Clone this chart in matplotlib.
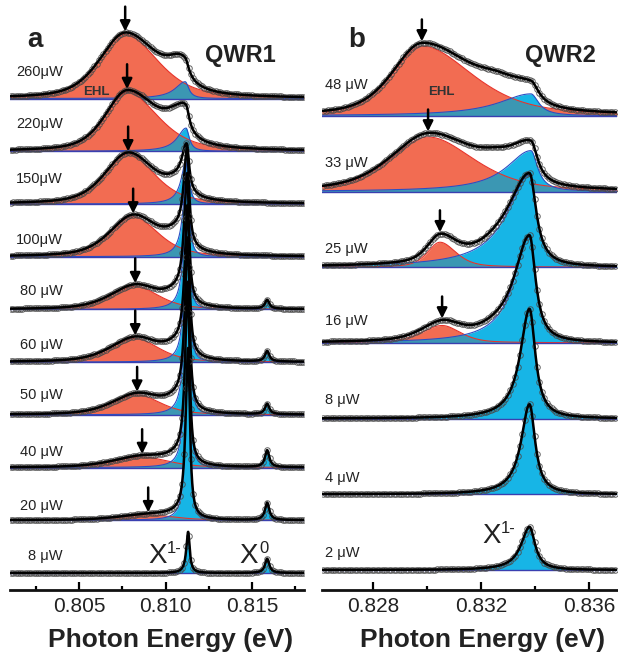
import numpy as np
import matplotlib
matplotlib.use("Agg")
import matplotlib.pyplot as plt
from matplotlib.ticker import MultipleLocator, FormatStrFormatter
from matplotlib.transforms import blended_transform_factory

plt.rcParams['font.family'] = ['Liberation Sans', 'DejaVu Sans']

# ---- panel a (QWR1): spectra listed top -> bottom, widths in meV ----
labels_a = ["260\u03bcW", "220\u03bcW", "150\u03bcW", "100\u03bcW", "80 \u03bcW",
            "60 \u03bcW", "50 \u03bcW", "40 \u03bcW", "20 \u03bcW", "8 \u03bcW"]
ehl_c_a = [0.80766, 0.80777, 0.80783, 0.80812, 0.80824, 0.80824, 0.80835, 0.80864, 0.80899, 0.8090]
ehl_h_a = [1.22, 1.12, 0.95, 0.76, 0.44, 0.45, 0.38, 0.20, 0.10, 0.0]
ehl_wl_a = [1.75, 1.5, 1.6, 1.6, 1.7, 1.7, 1.7, 2.0, 2.0, 1.5]
ehl_wr_a = [2.2, 2.1, 1.8, 1.7, 1.6, 1.6, 1.6, 1.8, 1.8, 1.5]
x1_c_a = [0.81113, 0.81118, 0.81122, 0.81125, 0.81125, 0.81127, 0.81128, 0.81128, 0.8113, 0.8113]
x1_h_a = [0.32, 0.44, 0.88, 1.8, 2.4, 2.8, 3.2, 3.4, 3.2, 0.78]
x1_gl_a = [0.7, 0.6, 0.35, 0.25, 0.22, 0.2, 0.2, 0.18, 0.17, 0.13]
x1_gr_a = [0.25, 0.22, 0.16, 0.13, 0.12, 0.12, 0.12, 0.12, 0.12, 0.11]
x0_h_a = [0.0, 0.0, 0.0, 0.0, 0.17, 0.2, 0.2, 0.32, 0.33, 0.27]
sh_h_a = [0.25, 0.3, 0.2, 0.25, 0.2, 0.2, 0.18, 0.12, 0.06, 0.0]
lab_dy_a = [0.51, 0.51, 0.47, 0.32, 0.34, 0.32, 0.38, 0.30, 0.27, 0.32]

# ---- panel b (QWR2) ----
labels_b = ["48 \u03bcW", "33 \u03bcW", "25 \u03bcW", "16 \u03bcW", "8 \u03bcW", "4 \u03bcW", "2 \u03bcW"]
ehl_c_b = [0.82981, 0.83004, 0.83048, 0.83056, 0.8305, 0.8305, 0.8305]
ehl_h_b = [0.92, 0.72, 0.33, 0.23, 0.0, 0.0, 0.0]
ehl_wl_b = [1.3, 1.65, 0.55, 0.9, 1.0, 1.0, 1.0]
ehl_wr_b = [2.2, 2.0, 0.7, 0.8, 1.0, 1.0, 1.0]
x1_c_b = [0.83385, 0.83385, 0.8338, 0.8338, 0.8338, 0.8338, 0.8338]
x1_h_b = [0.29, 0.54, 1.22, 1.4, 1.45, 1.19, 0.57]
x1_gl_b = [1.45, 1.1, 1.0, 0.7, 0.42, 0.38, 0.38]
x1_gr_b = [0.35, 0.3, 0.3, 0.27, 0.26, 0.25, 0.25]
x0_h_b = [0.0] * 7
sh_h_b = [0.1, 0.1, 0.06, 0.06, 0.0, 0.0, 0.0]
lab_dy_b = [0.41, 0.38, 0.24, 0.29, 0.25, 0.22, 0.22]

X0_CENTER = 0.81587
X0_W = 0.15
SH_C_A, SH_C_B = 0.8106, 0.8325

RED = '#f26c52'
BLUE = '#17b5e6'
TEAL = '#3b97b3'
RED_EDGE = '#e8332a'
BLUE_EDGE = '#2a4fc4'
BASE = '#3a3fb0'
TXT = '#222222'


def asym_lor(E, E0, A, gl, gr):
    g = np.where(E < E0, gl, gr) * 1e-3
    return A / (1 + ((E - E0) / g) ** 2)


def asym_pv(E, E0, A, wl, wr):
    g = np.where(E < E0, wl, wr) * 1e-3
    x = (E - E0) / g
    return A * (0.5 / (1 + x ** 2) + 0.5 * np.exp(-np.log(2) * x ** 2))


def draw_panel(ax, xlim, ylim, step, sh_c, labels, ehl_c, ehl_h, ehl_wl, ehl_wr,
               x1_c, x1_h, x1_gl, x1_gr, x0_h, sh_h, lab_dy, lab_x, lab_ha, arrow_len):
    E = np.linspace(xlim[0], xlim[1], 2500)
    Ep = np.arange(xlim[0] + step / 2, xlim[1], step)
    n = len(labels)
    tr = blended_transform_factory(ax.transAxes, ax.transData)

    def parts(x, i):
        red = asym_pv(x, ehl_c[i], ehl_h[i], ehl_wl[i], ehl_wr[i])
        blue = asym_lor(x, x1_c[i], x1_h[i], x1_gl[i], x1_gr[i]) + \
            asym_lor(x, X0_CENTER, x0_h[i], X0_W, X0_W)
        extra = asym_lor(x, sh_c, sh_h[i], 0.9, 0.8)
        return red, blue, red + blue + extra

    for i in range(n):
        off = n - 1 - i
        z = 10 + 10 * i
        red, blue, fit = parts(E, i)
        teal = np.minimum(red, blue)
        ax.fill_between(E, off, off + red, color=RED, lw=0, zorder=z)
        ax.fill_between(E, off, off + blue, color=BLUE, lw=0, zorder=z + 1)
        ax.fill_between(E, off, off + teal, color=TEAL, lw=0, zorder=z + 2)
        if ehl_h[i] > 0:
            ax.plot(E, off + red, color=RED_EDGE, lw=0.8, zorder=z + 3)
        ax.plot(E, off + blue, color=BLUE_EDGE, lw=0.8, zorder=z + 3)
        ax.plot(xlim, [off, off], color=BASE, lw=1.0, zorder=z + 3)
        _, _, fitp = parts(Ep, i)
        ax.plot(Ep, off + fitp, 'o', ms=4.0, mfc='none', mec='#4a4a4a', mew=0.7,
                alpha=0.85, zorder=z + 4)
        ax.plot(E, off + fit, color='k', lw=1.8, zorder=z + 5)
        ax.text(lab_x, off + lab_dy[i], labels[i], transform=tr, ha=lab_ha, va='center',
                fontsize=10.5, color=TXT, zorder=200)
        if ehl_h[i] > 0:
            _, _, top = parts(np.array([ehl_c[i]]), i)
            tip = off + top[0] + 0.02
            ax.annotate('', xy=(ehl_c[i], tip), xytext=(ehl_c[i], tip + arrow_len),
                        arrowprops=dict(arrowstyle='-|>', color='k', lw=1.8,
                                        mutation_scale=15, shrinkA=0, shrinkB=0),
                        zorder=200)

    ax.set_xlim(xlim)
    ax.set_ylim(ylim)
    for s in ['left', 'right', 'top']:
        ax.spines[s].set_visible(False)
    ax.spines['bottom'].set_linewidth(2)
    ax.spines['bottom'].set_color('#111111')
    ax.set_yticks([])
    ax.patch.set_alpha(0)
    ax.tick_params(axis='x', which='major', direction='in', length=6, width=1.6,
                   labelsize=15, labelcolor=TXT, pad=5)
    ax.tick_params(axis='x', which='minor', direction='in', length=3, width=1.6)
    ax.xaxis.set_major_formatter(FormatStrFormatter('%.3f'))


fig = plt.figure(figsize=(6.18, 6.54), dpi=100)
W, H = 618.0, 654.0
ax1 = fig.add_axes([10 / W, 64 / H, 294 / W, 590 / H])
ax2 = fig.add_axes([322 / W, 64 / H, 295 / W, 590 / H])

draw_panel(ax1, (0.8010, 0.8180), (-0.323, 10.87), 0.00013, SH_C_A, labels_a,
           ehl_c_a, ehl_h_a, ehl_wl_a, ehl_wr_a, x1_c_a, x1_h_a, x1_gl_a, x1_gr_a,
           x0_h_a, sh_h_a, lab_dy_a, 0.180, 'right', 0.47)
ax1.xaxis.set_major_locator(MultipleLocator(0.005))
ax1.xaxis.set_minor_locator(MultipleLocator(0.0025))

draw_panel(ax2, (0.82611, 0.83704), (-0.264, 7.53), 0.00009, SH_C_B, labels_b,
           ehl_c_b, ehl_h_b, ehl_wl_b, ehl_wr_b, x1_c_b, x1_h_b, x1_gl_b, x1_gr_b,
           x0_h_b, sh_h_b, lab_dy_b, 0.01, 'left', 0.29)
ax2.xaxis.set_major_locator(MultipleLocator(0.004))
ax2.xaxis.set_minor_locator(MultipleLocator(0.002))


def fpos(x, y):
    return x / W, 1 - y / H


def xlabel_sup(ax, x, y, sup):
    ax.text(x, y, "X", fontsize=20, color=TXT, ha='left', va='baseline', zorder=300)
    ax.annotate(sup, xy=(x, y), xytext=(13.8, 7.5), textcoords='offset points',
                fontsize=12, color=TXT, ha='left', va='baseline', zorder=300)


xlabel_sup(ax1, 0.80898, 0.19, "1-")
xlabel_sup(ax1, 0.81429, 0.19, "0")
xlabel_sup(ax2, 0.83204, 0.357, "1-")

fig.text(*fpos(27, 47), "a", fontsize=20, fontweight='bold', color=TXT, va='baseline')
fig.text(*fpos(348, 47), "b", fontsize=20, fontweight='bold', color=TXT, va='baseline')
fig.text(*fpos(205, 62), "QWR1", fontsize=17, fontweight='bold', color=TXT, va='baseline')
fig.text(*fpos(525, 62), "QWR2", fontsize=17, fontweight='bold', color=TXT, va='baseline')
fig.text(*fpos(83, 95), "EHL", fontsize=9.5, fontweight='bold', color='#333333',
         va='baseline', zorder=300)
fig.text(*fpos(428, 95), "EHL", fontsize=9.5, fontweight='bold', color='#333333',
         va='baseline', zorder=300)
fig.text(*fpos(171, 647), "Photon Energy (eV)", fontsize=19, fontweight='bold',
         color=TXT, ha='center', va='baseline')
fig.text(*fpos(483, 647), "Photon Energy (eV)", fontsize=19, fontweight='bold',
         color=TXT, ha='center', va='baseline')

fig.savefig("out.png", dpi=100)
